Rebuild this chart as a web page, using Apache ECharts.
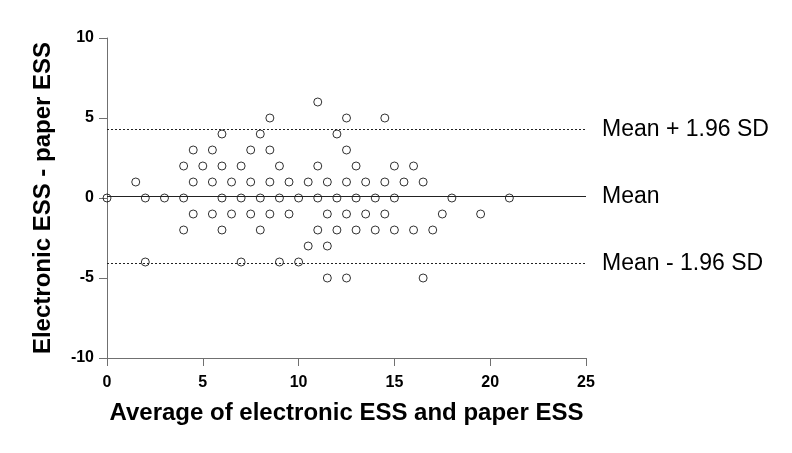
<!DOCTYPE html>
<html><head><meta charset="utf-8">
<script src="https://cdn.jsdelivr.net/npm/echarts@6/dist/echarts.min.js"></script>
<style>html,body{margin:0;padding:0;background:#fff}#c{width:792px;height:453px}</style>
</head><body><div id="c"></div>
<script>
// Differences (electronic - paper) and the averages observed at each difference level
const diffLevels = [6, 5, 4, 3, 2, 1, 0, -1, -2, -3, -4, -5];
const avgsAtPlus6 = [11];
const avgsAtPlus5 = [8.5, 12.5, 14.5];
const avgsAtPlus4 = [6, 8, 12];
const avgsAtPlus3 = [4.5, 5.5, 7.5, 8.5, 12.5];
const avgsAtPlus2 = [4, 5, 6, 7, 9, 11, 13, 15, 16];
const avgsAtPlus1 = [1.5, 4.5, 5.5, 6.5, 7.5, 8.5, 9.5, 10.5, 11.5, 12.5, 13.5, 14.5, 15.5, 16.5];
const avgsAtZero = [0, 2, 3, 4, 6, 7, 8, 9, 10, 11, 12, 13, 14, 15, 18, 21];
const avgsAtMinus1 = [4.5, 5.5, 6.5, 7.5, 8.5, 9.5, 11.5, 12.5, 13.5, 14.5, 17.5, 19.5];
const avgsAtMinus2 = [4, 6, 8, 11, 12, 13, 14, 15, 16, 17];
const avgsAtMinus3 = [10.5, 11.5];
const avgsAtMinus4 = [2, 7, 9, 10];
const avgsAtMinus5 = [11.5, 12.5, 16.5];
const avgsByLevel = [avgsAtPlus6, avgsAtPlus5, avgsAtPlus4, avgsAtPlus3, avgsAtPlus2, avgsAtPlus1,
  avgsAtZero, avgsAtMinus1, avgsAtMinus2, avgsAtMinus3, avgsAtMinus4, avgsAtMinus5];

const meanDiff = 0.1;
const upperLoA = 4.3;
const lowerLoA = -4.08;
const refLabels = ['Mean + 1.96 SD', 'Mean', 'Mean - 1.96 SD'];

const xTitle = 'Average of electronic ESS and paper ESS';
const yTitle = 'Electronic ESS - paper ESS';

const points = [];
diffLevels.forEach((d, i) => avgsByLevel[i].forEach(a => points.push([a, d])));

const FONT = '"Liberation Sans", Arial, sans-serif';
const axisGrey = '#707070';

const chart = echarts.init(document.getElementById('c'), null, {renderer: 'canvas'});
chart.setOption({
  animation: false,
  backgroundColor: '#fff',
  grid: {left: 107, right: 206, top: 38, bottom: 95, containLabel: false},
  xAxis: {
    type: 'value', min: 0, max: 25, interval: 5,
    name: xTitle, nameLocation: 'middle', nameGap: 43,
    nameTextStyle: {fontFamily: FONT, fontWeight: 'bold', fontSize: 24, color: '#000'},
    axisLine: {onZero: false, lineStyle: {color: axisGrey, width: 1}},
    axisTick: {show: true, inside: false, length: 8, lineStyle: {color: axisGrey, width: 1}},
    axisLabel: {fontFamily: FONT, fontWeight: 'bold', fontSize: 16, color: '#000', margin: 17},
    splitLine: {show: false}
  },
  yAxis: {
    type: 'value', min: -10, max: 10, interval: 5,
    name: yTitle, nameLocation: 'middle', nameGap: 52, nameRotate: 90,
    nameTextStyle: {fontFamily: FONT, fontWeight: 'bold', fontSize: 24, color: '#000'},
    axisLine: {show: true, onZero: false, lineStyle: {color: axisGrey, width: 1}},
    axisTick: {show: true, inside: false, length: 8, lineStyle: {color: axisGrey, width: 1}},
    axisLabel: {fontFamily: FONT, fontWeight: 'bold', fontSize: 16, color: '#000', margin: 13},
    splitLine: {show: false}
  },
  series: [{
    type: 'scatter',
    data: points,
    symbol: 'circle',
    symbolSize: 8,
    itemStyle: {color: 'rgba(255,255,255,0)', borderColor: '#000', borderWidth: 1},
    z: 3,
    markLine: {
      silent: true, symbol: 'none',
      label: {show: true, position: 'end', distance: 16, fontFamily: FONT, fontSize: 23, color: '#000',
        formatter: p => p.name},
      data: [
        {name: refLabels[0], yAxis: upperLoA, lineStyle: {type: [2, 2], color: '#222', width: 1}},
        {name: refLabels[1], yAxis: meanDiff, lineStyle: {type: 'solid', color: '#222', width: 1}},
        {name: refLabels[2], yAxis: lowerLoA, lineStyle: {type: [2, 2], color: '#222', width: 1}}
      ]
    }
  }]
});
</script></body></html>
